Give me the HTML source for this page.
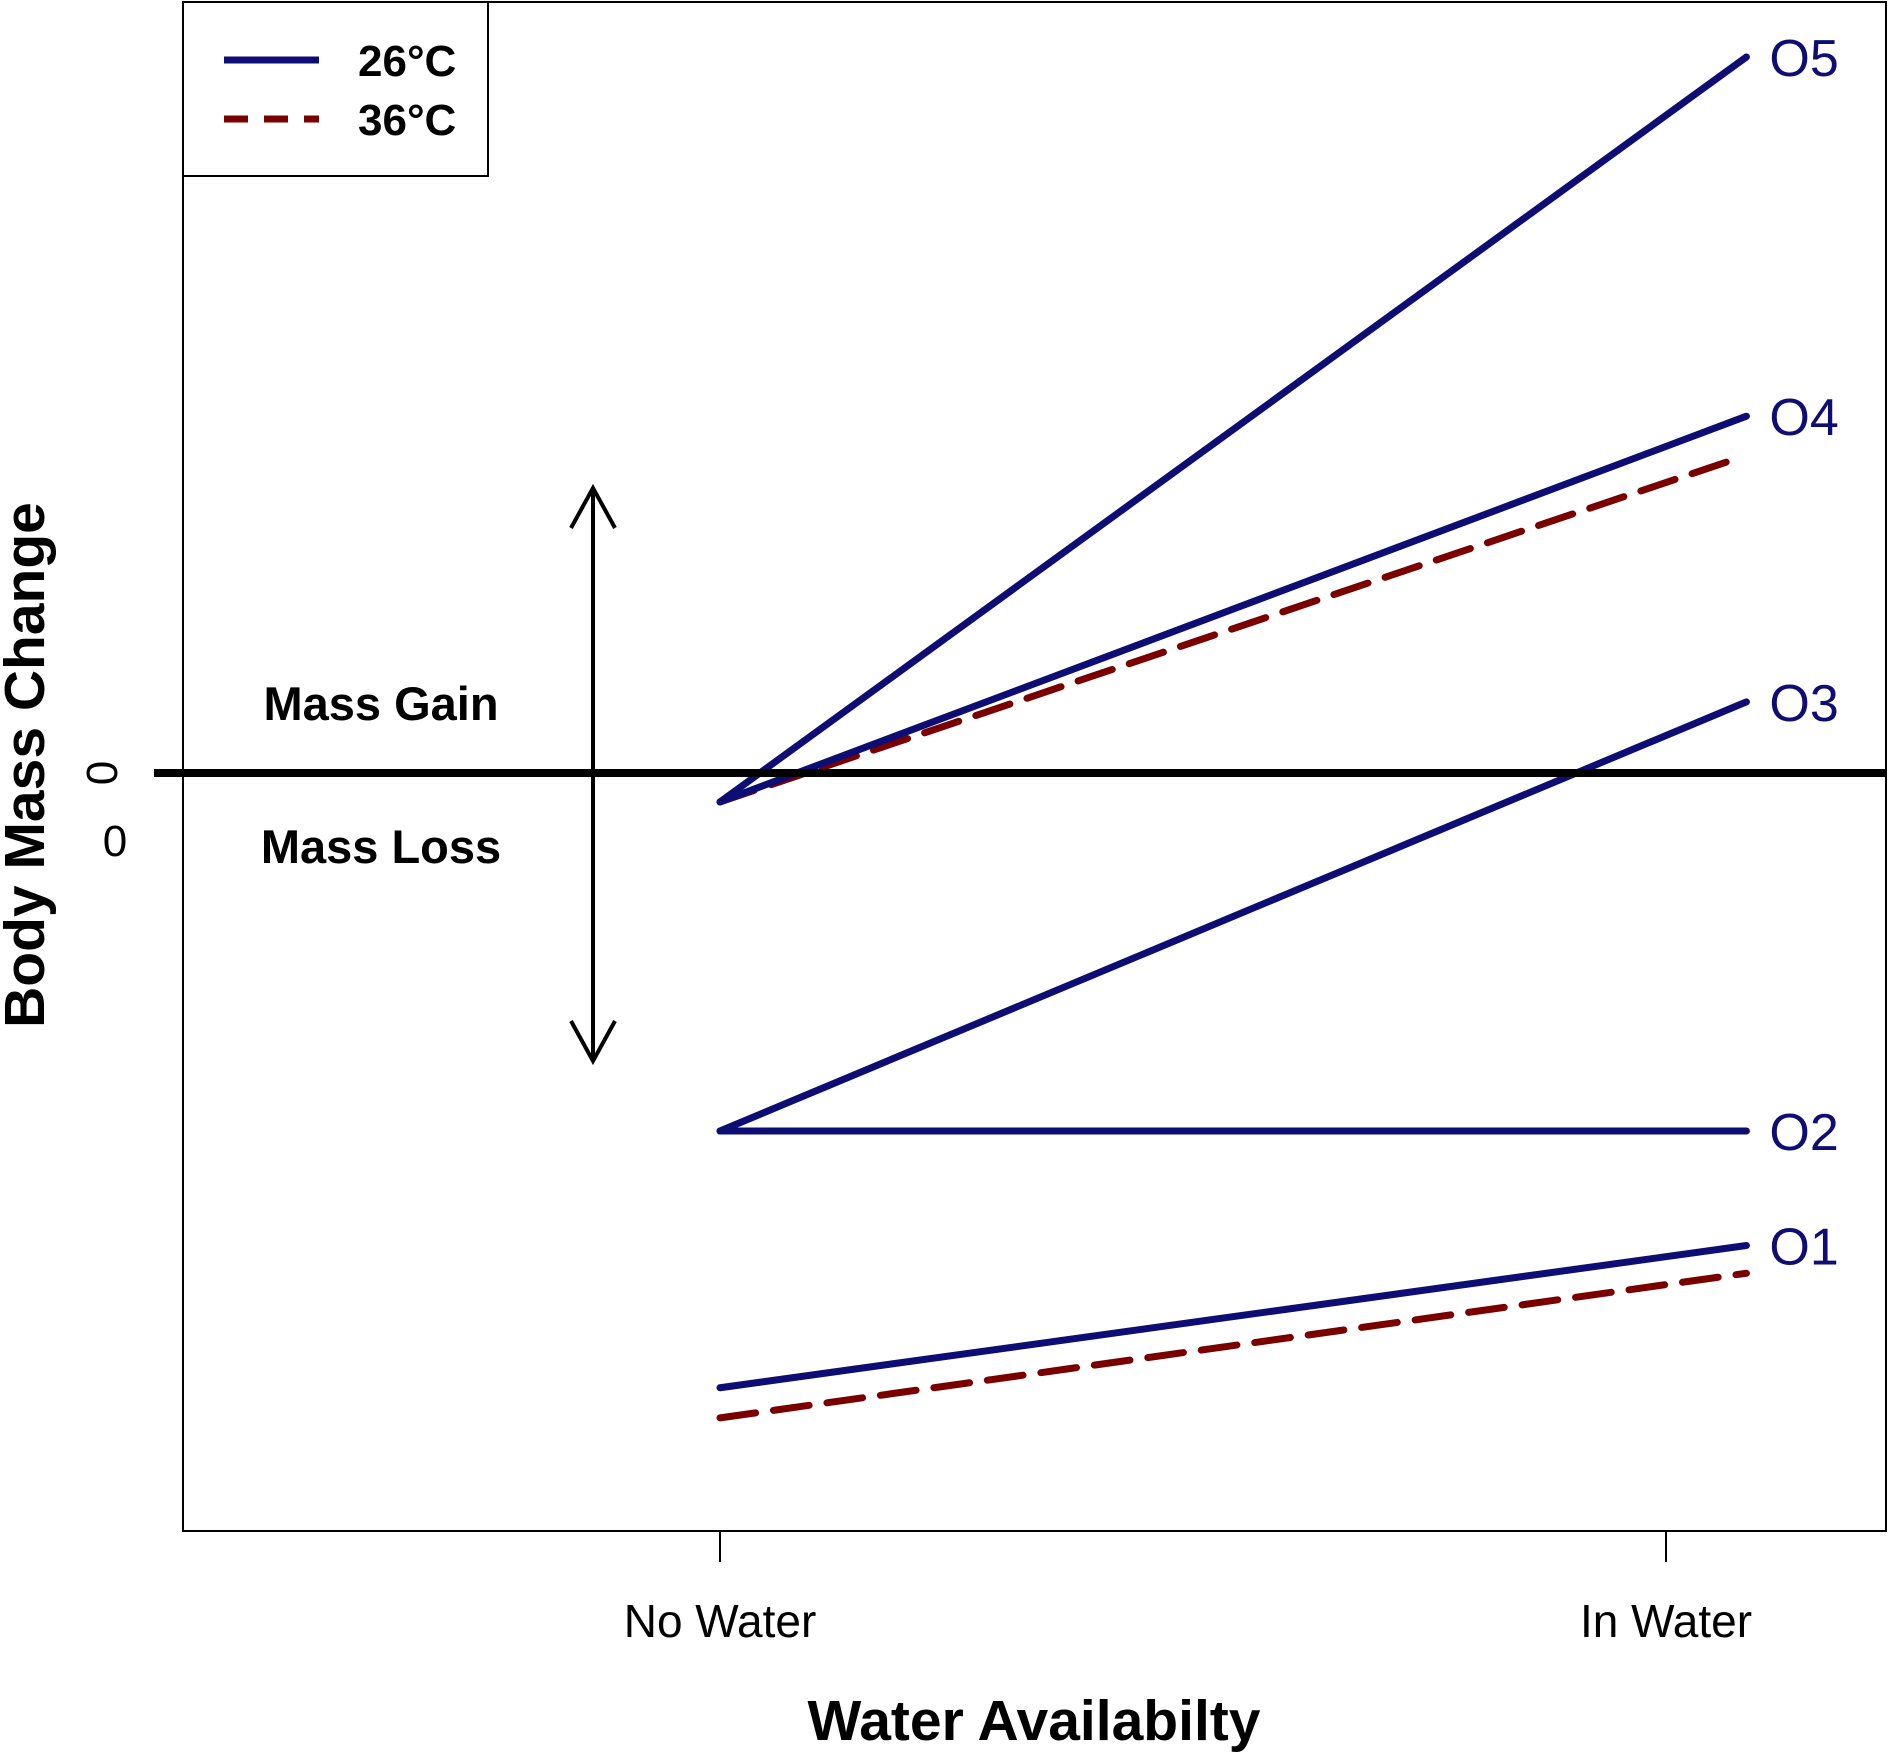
<!DOCTYPE html>
<html><head><meta charset="utf-8"><style>
html,body{margin:0;padding:0;background:#fff;}
svg{display:block;font-family:"Liberation Sans",Arial,sans-serif;}
</style></head><body>
<svg id="chart" width="1890" height="1754" viewBox="0 0 1890 1754">
<rect x="183" y="2" width="1703" height="1529" fill="none" stroke="#000" stroke-width="2"/>
<g id="marks"></g>
<line x1="154" y1="773" x2="1886" y2="773" stroke="#000" stroke-width="8"/>
<g stroke="#000" stroke-width="4" fill="none">
<line x1="593" y1="488" x2="593" y2="1061"/>
<polyline points="571,528 593,488 615,528"/>
<polyline points="571,1021 593,1061 615,1021"/>
</g>
<text x="381" y="720" font-size="47" font-weight="bold" text-anchor="middle">Mass Gain</text>
<text x="381" y="863" font-size="47" font-weight="bold" text-anchor="middle">Mass Loss</text>
<text transform="translate(117,773) rotate(-90)" font-size="44" text-anchor="middle">0</text>
<text x="115" y="856" font-size="44" text-anchor="middle">0</text>
<text transform="translate(44,765) rotate(-90)" font-size="57" font-weight="bold" text-anchor="middle">Body Mass Change</text>
<line x1="720" y1="1531" x2="720" y2="1562" stroke="#000" stroke-width="2"/>
<line x1="1666" y1="1531" x2="1666" y2="1562" stroke="#000" stroke-width="2"/>
<text x="720" y="1637" font-size="46" text-anchor="middle">No Water</text>
<text x="1666" y="1637" font-size="46" text-anchor="middle">In Water</text>
<text x="1034" y="1740" font-size="57" font-weight="bold" text-anchor="middle">Water Availabilty</text>
<g>
<rect x="183" y="2" width="305" height="174" fill="#fff" stroke="#000" stroke-width="2"/>
<line x1="224" y1="60" x2="319" y2="60" stroke="#0d0d73" stroke-width="7"/>
<line x1="224" y1="119" x2="319" y2="119" stroke="#7a0000" stroke-width="7" stroke-dasharray="24,16"/>
<text x="358" y="76" font-size="44" font-weight="bold">26°C</text>
<text x="358" y="135" font-size="44" font-weight="bold">36°C</text>
</g>
</svg>
<script>
const seriesNames = ["O5","O4","O3","O2","O1"];
const solidStart = [-0.24, -0.24, -2.97, -2.97, -5.10];
const solidEnd = [5.94, 2.96, 0.59, -2.97, -3.92];
const dashedNames = ["O4","O1"];
const dashedStart = [-0.24, -5.35];
const dashedEnd = [2.58, -4.15];
const dashedEndX = [1.064, 1.085];
const solidEndX = 1.085;
function xs(v){return 720 + v*946;}
function ys(v){return 773 - v*120.54;}
const g = document.getElementById('marks');
const NS = 'http://www.w3.org/2000/svg';
dashedNames.forEach((n,i)=>{
  const l = document.createElementNS(NS,'line');
  l.setAttribute('x1',xs(0)); l.setAttribute('y1',ys(dashedStart[i]));
  l.setAttribute('x2',xs(dashedEndX[i])); l.setAttribute('y2',ys(dashedEnd[i]));
  l.setAttribute('stroke','#7a0000'); l.setAttribute('stroke-width','7');
  l.setAttribute('stroke-dasharray','36,18'); l.setAttribute('stroke-linecap','round');
  
  
  g.appendChild(l);
});
seriesNames.forEach((n,i)=>{
  const l = document.createElementNS(NS,'line');
  l.setAttribute('x1',xs(0)); l.setAttribute('y1',ys(solidStart[i]));
  l.setAttribute('x2',xs(solidEndX)); l.setAttribute('y2',ys(solidEnd[i]));
  l.setAttribute('stroke','#0d0d73'); l.setAttribute('stroke-width','7');
  l.setAttribute('stroke-linecap','round');
  
  
  g.appendChild(l);
  const t = document.createElementNS(NS,'text');
  t.setAttribute('x', xs(solidEndX)+23); t.setAttribute('y', ys(solidEnd[i])+19);
  t.setAttribute('font-size','52'); t.setAttribute('fill','#0d0d73');
  t.textContent = n;
  
  
  g.appendChild(t);
});
</script>
</body></html>
